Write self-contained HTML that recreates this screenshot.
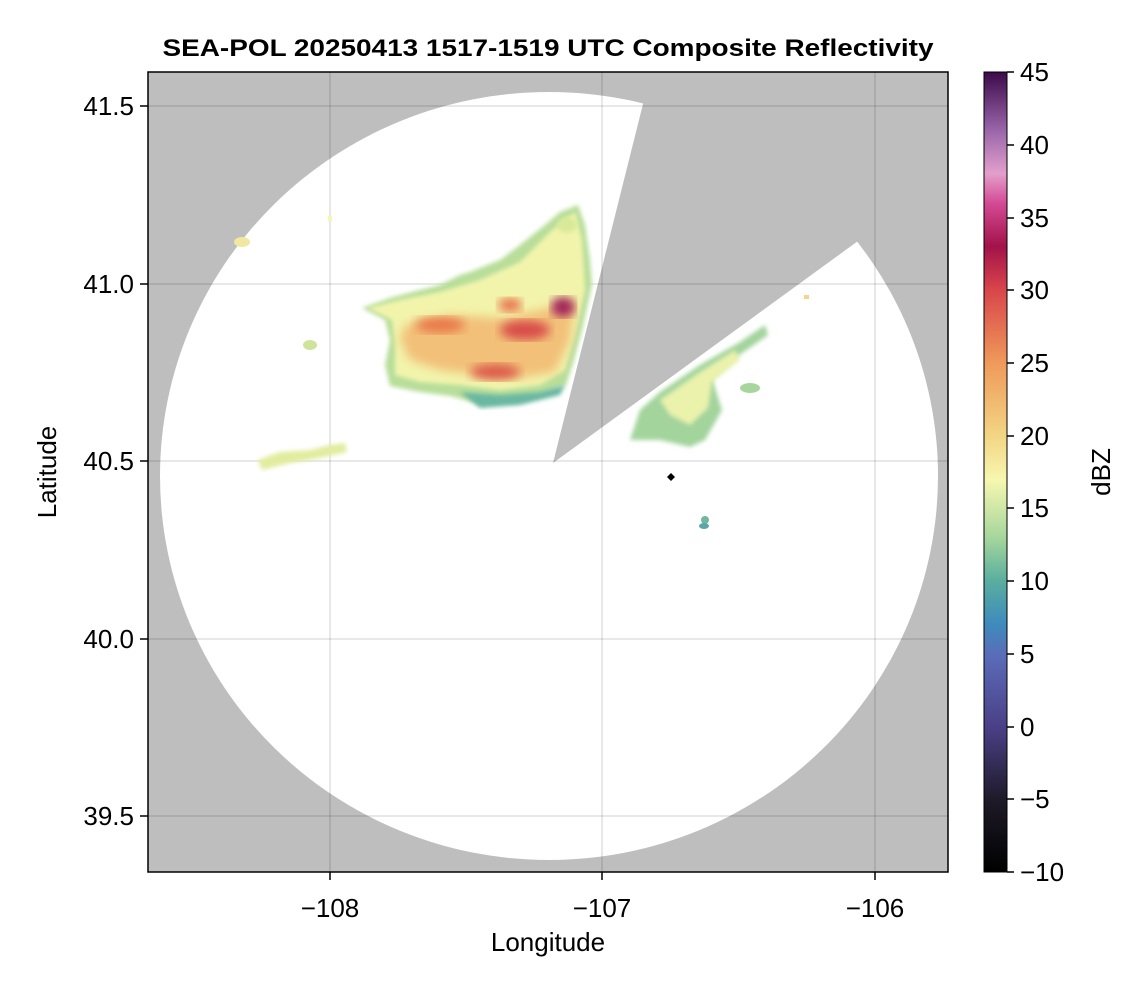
<!DOCTYPE html>
<html><head><meta charset="utf-8"><style>
body{margin:0;background:#fff;}
text{font-family:"Liberation Sans",sans-serif;}
</style></head><body>
<svg width="1146" height="990" xmlns="http://www.w3.org/2000/svg">
<defs>
<clipPath id="pa"><rect x="148" y="72" width="800" height="800"/></clipPath>
<filter id="b2"><feGaussianBlur stdDeviation="2"/></filter>
<filter id="b4"><feGaussianBlur stdDeviation="5"/></filter>
<linearGradient id="cb" x1="0" y1="1" x2="0" y2="0">
<stop offset="0" stop-color="#000000"/>
<stop offset="0.09" stop-color="#1e1a28"/>
<stop offset="0.18" stop-color="#4a3f86"/>
<stop offset="0.27" stop-color="#5a6cb8"/>
<stop offset="0.31" stop-color="#3e8bbd"/>
<stop offset="0.364" stop-color="#5aae9e"/>
<stop offset="0.418" stop-color="#a6d69c"/>
<stop offset="0.49" stop-color="#f6f7b0"/>
<stop offset="0.545" stop-color="#f3d584"/>
<stop offset="0.636" stop-color="#ef9a5a"/>
<stop offset="0.727" stop-color="#d9464b"/>
<stop offset="0.782" stop-color="#a3124a"/>
<stop offset="0.836" stop-color="#d44a94"/>
<stop offset="0.873" stop-color="#e39fcb"/>
<stop offset="0.927" stop-color="#9a66aa"/>
<stop offset="1" stop-color="#3c0a4a"/>
</linearGradient>
</defs>
<text x="548" y="56" text-anchor="middle" font-size="24" font-weight="bold" textLength="771" lengthAdjust="spacingAndGlyphs">SEA-POL 20250413 1517-1519 UTC Composite Reflectivity</text>
<g clip-path="url(#pa)">
<rect x="148" y="72" width="800" height="800" fill="#bebebe"/>
<ellipse cx="549" cy="476" rx="389" ry="384" fill="#fff"/>
<polygon points="553,463 645,96 680,40 980,40 980,200 858,241" fill="#bebebe"/>
<g stroke="#000" stroke-opacity="0.12" stroke-width="1.5">
<line x1="330" y1="72" x2="330" y2="872"/><line x1="602" y1="72" x2="602" y2="872"/><line x1="875" y1="72" x2="875" y2="872"/>
<line x1="148" y1="106" x2="948" y2="106"/><line x1="148" y1="284" x2="948" y2="284"/><line x1="148" y1="461" x2="948" y2="461"/><line x1="148" y1="639" x2="948" y2="639"/><line x1="148" y1="816" x2="948" y2="816"/>
</g>
<polygon filter="url(#b2)" fill="#b8de9a" points="362,308 390,298 420,290 440,285 460,275 470,272 500,260 520,245 545,225 560,212 578,205 585,225 590,260 592,285 582,330 574,360 566,385 540,396 510,400 480,404 450,396 420,392 390,386 385,365 390,340 385,320 370,312"/>
<polygon filter="url(#b2)" fill="#f2f4ac" points="368,308 400,300 440,292 480,280 520,262 550,232 575,212 582,240 585,290 575,335 565,370 540,385 500,390 460,385 420,382 395,375 395,345 392,320"/>
<polygon filter="url(#b4)" fill="#f2c078" points="405,325 450,315 500,318 540,310 575,300 570,340 555,372 520,378 480,375 440,370 410,360 400,340"/>
<ellipse filter="url(#b4)" cx="440" cy="325" rx="25" ry="8" fill="#e8784a"/>
<ellipse filter="url(#b4)" cx="525" cy="330" rx="25" ry="10" fill="#d84e4a"/>
<ellipse filter="url(#b4)" cx="563" cy="307" rx="12" ry="10" fill="#a0205a"/>
<ellipse filter="url(#b4)" cx="495" cy="372" rx="25" ry="8" fill="#dc5a4a"/>
<ellipse filter="url(#b4)" cx="510" cy="305" rx="12" ry="7" fill="#e8704a"/>
<polygon filter="url(#b2)" fill="#6ab8a2" points="460,392 500,395 540,392 565,385 560,395 520,405 480,408"/>
<ellipse cx="567" cy="225" rx="10" ry="8" fill="#d8ea9a" filter="url(#b2)"/>
<ellipse cx="310" cy="345" rx="7" ry="5" fill="#cfe49a"/>
<polygon filter="url(#b2)" fill="#e2ec9e" points="258,460 280,452 310,450 330,445 345,443 347,452 320,458 290,463 262,470"/>
<ellipse cx="242" cy="242" rx="8" ry="5" fill="#f0e7a0"/>
<rect x="328" y="216" width="4" height="5" fill="#f6f6b0"/>
<rect x="804" y="295" width="5" height="4" fill="#f2d585"/>
<polygon filter="url(#b2)" fill="#a3d49c" points="630,440 640,410 660,392 700,365 740,342 765,325 768,335 735,358 712,378 722,410 705,440 690,447 660,440"/>
<polygon filter="url(#b2)" fill="#eaf2ac" points="660,400 700,372 735,350 740,360 712,382 708,408 690,425 670,415"/>
<ellipse cx="750" cy="388" rx="10" ry="5" fill="#a6d69c"/>
<ellipse cx="705" cy="520" rx="4" ry="4" fill="#6fb8a0"/>
<ellipse cx="704" cy="526" rx="5" ry="3" fill="#5aa6a6"/>
<polygon points="671,473 675,477 671,481 667,477" fill="#000"/>
</g>
<rect x="148" y="72" width="800" height="800" fill="none" stroke="#000" stroke-width="1.5"/>
<g font-size="26" text-anchor="middle">
<text x="330" y="917">−108</text><text x="602" y="917">−107</text><text x="875" y="917">−106</text>
</g>
<g stroke="#000" stroke-width="1.5"><line x1="330" y1="872" x2="330" y2="880"/><line x1="602" y1="872" x2="602" y2="880"/><line x1="875" y1="872" x2="875" y2="880"/>
<line x1="140" y1="106" x2="148" y2="106"/><line x1="140" y1="284" x2="148" y2="284"/><line x1="140" y1="461" x2="148" y2="461"/><line x1="140" y1="639" x2="148" y2="639"/><line x1="140" y1="816" x2="148" y2="816"/></g>
<g font-size="26" text-anchor="end">
<text x="134" y="115">41.5</text><text x="134" y="293">41.0</text><text x="134" y="470">40.5</text><text x="134" y="648">40.0</text><text x="134" y="825">39.5</text>
</g>
<text x="548" y="951" text-anchor="middle" font-size="26">Longitude</text>
<text transform="translate(56,472) rotate(-90)" text-anchor="middle" font-size="26">Latitude</text>
<rect x="984" y="72" width="23" height="800" fill="url(#cb)" stroke="#000" stroke-width="1"/>
<g stroke="#000" stroke-width="1.5">
<line x1="1007" y1="72" x2="1014" y2="72"/><line x1="1007" y1="145" x2="1014" y2="145"/><line x1="1007" y1="218" x2="1014" y2="218"/><line x1="1007" y1="290" x2="1014" y2="290"/><line x1="1007" y1="363" x2="1014" y2="363"/><line x1="1007" y1="436" x2="1014" y2="436"/><line x1="1007" y1="508" x2="1014" y2="508"/><line x1="1007" y1="581" x2="1014" y2="581"/><line x1="1007" y1="654" x2="1014" y2="654"/><line x1="1007" y1="727" x2="1014" y2="727"/><line x1="1007" y1="799" x2="1014" y2="799"/><line x1="1007" y1="872" x2="1014" y2="872"/>
</g>
<g font-size="26">
<text x="1020" y="81">45</text><text x="1020" y="154">40</text><text x="1020" y="227">35</text><text x="1020" y="299">30</text><text x="1020" y="372">25</text><text x="1020" y="445">20</text><text x="1020" y="517">15</text><text x="1020" y="590">10</text><text x="1020" y="663">5</text><text x="1020" y="736">0</text><text x="1020" y="808">−5</text><text x="1020" y="881">−10</text>
</g>
<text transform="translate(1110,472) rotate(-90)" text-anchor="middle" font-size="26">dBZ</text>
</svg>
</body></html>
